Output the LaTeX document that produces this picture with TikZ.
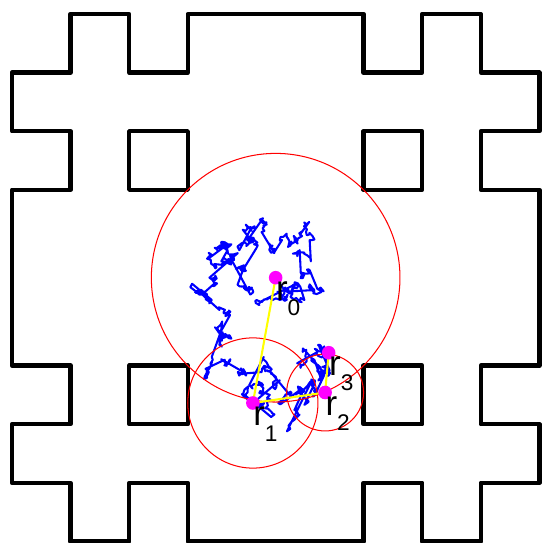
\documentclass[tikz,border=0pt]{standalone}
\usepackage{fontspec}
\newfontfamily\lblfont{Liberation Sans}
\definecolor{magpt}{RGB}{255,0,255}
\definecolor{amarillo}{RGB}{255,255,0}
\definecolor{azul}{RGB}{0,0,255}
\definecolor{rojo}{RGB}{255,0,0}

\begin{document}
\begin{tikzpicture}[
    % Estilos (contorno, camino, esferas, saltos, puntos y etiquetas)
    borde/.style={line width=2.1pt, draw=black, line join=round},
    walk/.style={line width=1pt, draw=azul, line join=round},
    esfera/.style={line width=0.5pt, draw=rojo},
    salto/.style={line width=1pt, draw=amarillo},
    punto/.style={circle, fill=magpt, minimum size=6.6pt, inner sep=0pt},
    lbl/.style={font=\lblfont\fontsize{17}{17}\selectfont, inner sep=0pt, anchor=base west, yshift=-11pt}
]
\useasboundingbox (-0.204,-0.027) rectangle (9.046,9.239);

% ---------------------------------------------------------
% 1. DOMINIO (contorno exterior y huecos)
% ---------------------------------------------------------
\draw[borde] (1,9) -- (2,9) -- (2,8) -- (3,8) -- (3,9) -- (6,9) -- (6,8) -- (7,8) -- (7,9)
    -- (8,9) -- (8,8) -- (9,8) -- (9,7) -- (8,7) -- (8,6) -- (9,6) -- (9,3) -- (8,3)
    -- (8,2) -- (9,2) -- (9,1) -- (8,1) -- (8,0) -- (7,0) -- (7,1) -- (6,1) -- (6,0)
    -- (3,0) -- (3,1) -- (2,1) -- (2,0) -- (1,0) -- (1,1) -- (0,1) -- (0,2) -- (1,2)
    -- (1,3) -- (0,3) -- (0,6) -- (1,6) -- (1,7) -- (0,7) -- (0,8) -- (1,8) -- cycle;
\foreach \x/\y in {2/2, 6/2, 2/6, 6/6} \draw[borde] (\x,\y) rectangle ++(1,1);

% ---------------------------------------------------------
% 2. PUNTOS DEL RECORRIDO
% ---------------------------------------------------------
\coordinate (r0) at (4.5, 4.5);
\coordinate (r1) at (4.111, 2.362);
\coordinate (r2) at (5.344, 2.541);
\coordinate (r3) at (5.405, 3.22);

% Camino browniano (aleatorio alrededor de la trayectoria)
\pgfmathsetseed{4217}
\draw[walk] (r0) foreach \x/\y in {4.65/4.29, 4.57/4.12, 4.82/4.38, 4.99/4.12, 5.16/4.29,
    5.08/4.63, 4.91/4.97, 5.08/5.14, 4.91/5.23, 4.74/5.06, 4.48/4.94, 4.26/5.28,
    4.05/5.18, 3.97/5.28, 3.88/4.97, 3.94/4.63, 3.85/4.38, 3.75/4.80, 3.68/4.97,
    3.46/5.01, 3.37/4.84, 3.58/4.72, 3.37/4.50, 3.24/4.21, 3.41/4.12, 3.54/3.95,
    3.58/3.61, 3.71/3.52, 3.54/3.35, 3.41/3.15, 3.63/3.10, 3.88/2.93, 4.26/2.89,
    4.05/2.67, 4.40/2.50, 3.97/2.50, 4.14/2.33, 4.57/2.75, 4.74/2.50, 4.91/2.58,
    4.99/2.33, 4.82/2.24, 5.08/2.67, 5.33/2.84, 5.16/3.10, 4.99/3.27, 5.21/3.23,
    5.42/2.92, 5.36/3.12}
    { -- (\x,\y) foreach \k in {1,...,14} { -- ++(0.065*rand, 0.065*rand) } };

% Esferas de cada paso
\draw[esfera] (r0) circle (2.1213);
\draw[esfera] (r1) circle (1.111);
\draw[esfera] (r2) circle (0.656);

% Saltos entre centros
\draw[salto] (r0) -- (r1) -- (r2) -- (r3);

% ---------------------------------------------------------
% 3. NODOS Y ETIQUETAS
% ---------------------------------------------------------
\foreach \i in {0,...,3} \node[punto] (p\i) at (r\i) {};

\node[lbl] (l0) at (r0) {r\raisebox{-7.5pt}{\fontsize{11}{11}\selectfont 0}};
\node[lbl] (l1) at (r1) {r\raisebox{-7.5pt}{\fontsize{11}{11}\selectfont 1}};
\node[lbl] (l2) at (r2) {r\raisebox{-7.5pt}{\fontsize{11}{11}\selectfont 2}};
\node[lbl] (l3) at (r3) {r\raisebox{-7.5pt}{\fontsize{11}{11}\selectfont 3}};

\end{tikzpicture}
\end{document}
